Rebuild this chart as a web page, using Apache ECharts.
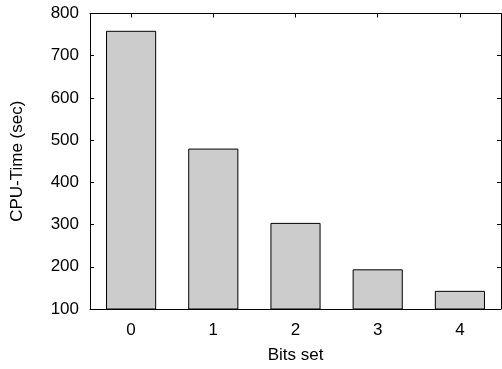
<!DOCTYPE html>
<html>
<head>
<meta charset="utf-8">
<script src="https://cdn.jsdelivr.net/npm/echarts@6/dist/echarts.min.js"></script>
<style>
  html, body { margin: 0; padding: 0; background: #fff; }
  #chart { width: 502px; height: 369px; }
</style>
</head>
<body>
<div id="chart"></div>
<script>
// bits set vs cpu time
const categories = ['0', '1', '2', '3', '4'];
const cpuTime = [759, 480, 304, 194, 143];
const yMin = 100, yMax = 800, yStep = 100;

const font = 'Liberation Sans, Arial, sans-serif';
const tickStyle = { show: true, inside: true, length: 4, lineStyle: { color: '#000', width: 1 } };

const myChart = echarts.init(document.getElementById('chart'));
const option = {
    animation: false,
    grid: { left: 90, right: 1, top: 13.5, bottom: 56, containLabel: false },
    xAxis: [
        {
            type: 'category',
            data: categories,
            position: 'bottom',
            name: 'Bits set',
            nameLocation: 'middle',
            nameGap: 38,
            nameTextStyle: { fontFamily: font, fontSize: 17, color: '#000' },
            axisLine: { show: true, lineStyle: { color: '#000', width: 1 } },
            axisTick: Object.assign({ alignWithLabel: true }, tickStyle),
            axisLabel: { fontFamily: font, fontSize: 17, color: '#000', margin: 13 },
            splitLine: { show: false }
        },
        {
            type: 'category',
            data: categories,
            position: 'top',
            axisLine: { show: true, lineStyle: { color: '#000', width: 1 } },
            axisTick: Object.assign({ alignWithLabel: true }, tickStyle),
            axisLabel: { show: false },
            splitLine: { show: false }
        }
    ],
    yAxis: [
        {
            type: 'value',
            min: yMin,
            max: yMax,
            interval: yStep,
            position: 'left',
            name: 'CPU-Time (sec)',
            nameLocation: 'middle',
            nameRotate: 90,
            nameGap: 64,
            nameTextStyle: { fontFamily: font, fontSize: 17, color: '#000' },
            axisLine: { show: true, lineStyle: { color: '#000', width: 1 } },
            axisTick: tickStyle,
            axisLabel: { fontFamily: font, fontSize: 17, color: '#000', margin: 11 },
            splitLine: { show: false }
        },
        {
            type: 'value',
            min: yMin,
            max: yMax,
            interval: yStep,
            position: 'right',
            axisLine: { show: true, lineStyle: { color: '#000', width: 1 } },
            axisTick: tickStyle,
            axisLabel: { show: false },
            splitLine: { show: false }
        }
    ],
    series: [
        {
            type: 'bar',
            data: cpuTime,
            barWidth: '61%',
            itemStyle: { color: '#cccccc', borderColor: '#000', borderWidth: 1 }
        }
    ]
};
myChart.setOption(option, true);
</script>
</body>
</html>
